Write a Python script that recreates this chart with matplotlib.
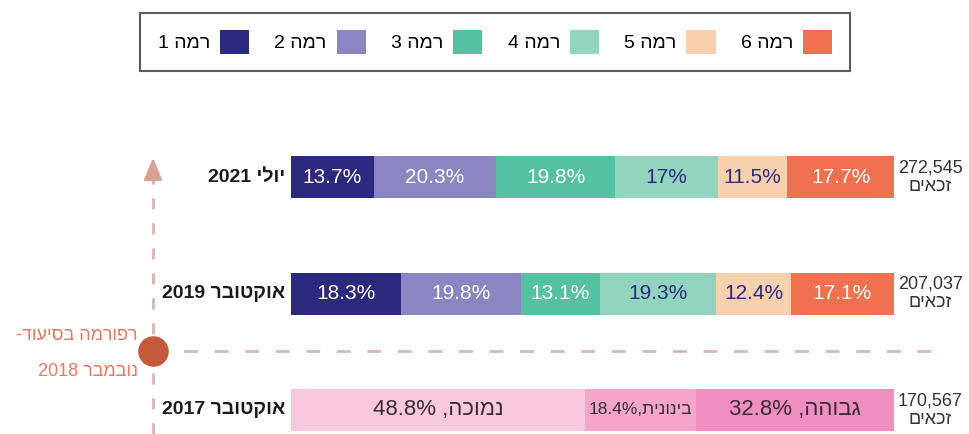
import re
import matplotlib.pyplot as plt
import numpy as np

# --- Données ---
years = ['אוקטובר 2017', 'אוקטובר 2019', 'יולי 2021']
totals = ['170,567', '207,037', '272,545']

levels = ['רמה 1', 'רמה 2', 'רמה 3', 'רמה 4', 'רמה 5', 'רמה 6']
share_2019 = [18.3, 19.8, 13.1, 19.3, 12.4, 17.1]
share_2021 = [13.7, 20.3, 19.8, 17, 11.5, 17.7]

old_groups = ['נמוכה', 'בינונית', 'גבוהה']
share_2017 = [48.8, 18.4, 32.8]

reform_text = ['רפורמה בסיעוד-', 'נובמבר 2018']
units = 'זכאים'

# --- Styles ---
level_colors = ['#2b2a7e', '#8a86c1', '#55c1a1', '#91d4bd', '#f7d0ae', '#f0714f']
level_text = ['white', 'white', 'white', '#2b2a7e', '#2b2a7e', 'white']
old_colors = ['#f8c9dd', '#f3a6c9', '#ef8ebf']
FONT = ['Liberation Sans', 'DejaVu Sans']


def bidi(s):
    """ordre visuel simple pour l'hébreu (matplotlib ne gère pas le RTL)"""
    tokens = re.findall(r'\d[\d.,]*%?|[^\d]+', s)
    out = []
    for t in reversed(tokens):
        out.append(t if t[0].isdigit() else t[::-1])
    return ''.join(out)


fig = plt.figure(figsize=(9.69, 4.34), dpi=100)

# calque en pixels pour les annotations
ov = fig.add_axes([0, 0, 1, 1])
ov.set_xlim(0, 969)
ov.set_ylim(434, 0)
ov.axis('off')

# axe des barres
ax = fig.add_axes([291 / 969, 2 / 434, 603 / 969, 285 / 434])
ax.set_xlim(0, 100)
ax.set_ylim(-0.19, 2.26)
ax.axis('off')

H = 0.36
ypos = np.arange(len(years))

# Barres 2019 / 2021 (rama 1..6)
handles = []
for row, shares in [(1, share_2019), (2, share_2021)]:
    left = np.concatenate([[0], np.cumsum(shares)[:-1]])
    bars = ax.barh(ypos[row], shares, left=left, height=H, color=level_colors, edgecolor='none')
    if row == 2:
        handles = list(bars)
    for b, v, tc in zip(bars, shares, level_text):
        ax.text(b.get_x() + b.get_width() / 2, ypos[row], f'{v:g}%', ha='center', va='center',
                color=tc, fontsize=15, family=FONT)

# Barre 2017 (anciennes catégories)
left = np.concatenate([[0], np.cumsum(share_2017)[:-1]])
bars = ax.barh(ypos[0], share_2017, left=left, height=H, color=old_colors, edgecolor='none')
for b, name, v in zip(bars, old_groups, share_2017):
    sep = ',' if v < 20 else ', '
    fs = 12.5 if v < 20 else 16
    ax.text(b.get_x() + b.get_width() / 2, ypos[0], bidi(f'{name}{sep}{v:g}%'), ha='center',
            va='center', color='#3a2b38', fontsize=fs, family=FONT)

# étiquettes gauche / droite
for y, lab, tot in zip(ypos, years, totals):
    ax.text(-1, y, bidi(lab), ha='right', va='center', fontsize=14, fontweight='bold',
            color='#1a1a1a', family=FONT)
    ax.text(106, y, tot + '\n' + bidi(units), ha='center', va='center', fontsize=13,
            linespacing=1.1, color='#333333', family=FONT)

# réforme : axe pointillé + point
ov.plot([153, 153], [434, 172], color='#dbb4ad', lw=2, ls=(0, (4, 5)), zorder=1)
ov.annotate('', xy=(153, 155), xytext=(153, 176),
            arrowprops=dict(arrowstyle='-|>,head_length=0.6,head_width=0.25',
                            color='#dca093', lw=2, mutation_scale=22))
ov.plot([153, 940], [351, 351], color='#d8b8b4', lw=2, ls=(0, (5, 6)), zorder=1)
ov.plot(153, 351, 'o', color='#c55a3a', markersize=21, zorder=3)
ov.text(138, 336, bidi(reform_text[0]), ha='right', va='center', fontsize=13,
        color='#e27b62', family=FONT)
ov.text(138, 371, bidi(reform_text[1]), ha='right', va='center', fontsize=13,
        color='#e27b62', family=FONT)

# légende
leg = fig.legend(handles, [bidi(l) for l in levels], loc='center', ncol=6,
                 bbox_to_anchor=(495 / 969, 1 - 42 / 434), markerfirst=False,
                 handlelength=1.5, handleheight=1.5, handletextpad=0.5, columnspacing=1.3,
                 borderpad=0.9, fancybox=False, frameon=True,
                 prop={'family': FONT, 'size': 14})
leg.get_frame().set_edgecolor('#333333')
leg.get_frame().set_linewidth(1.5)

fig.savefig('out.png', dpi=100)
